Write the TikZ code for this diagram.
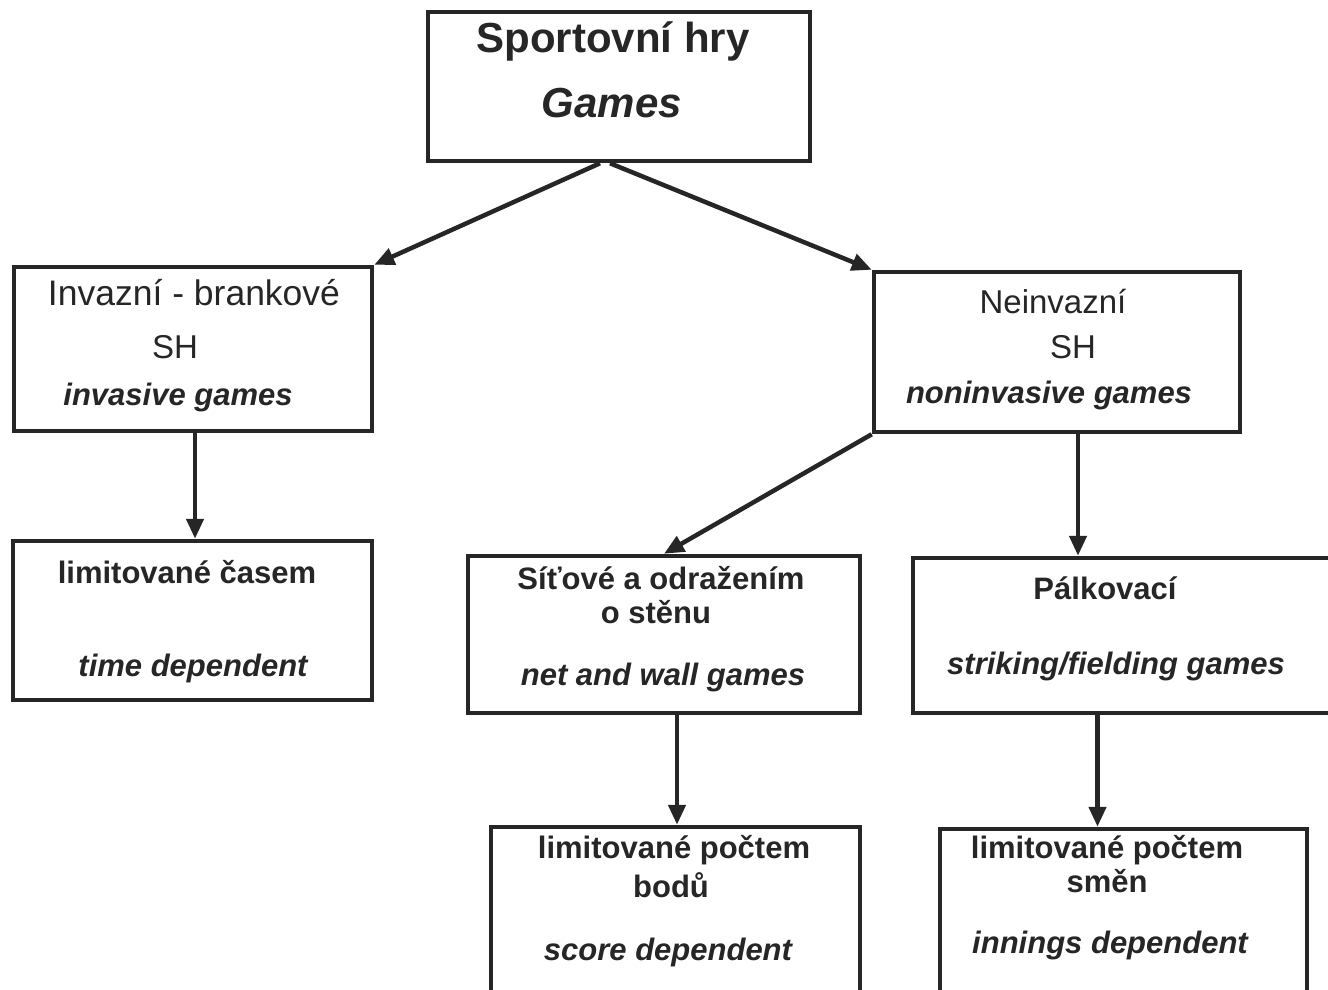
\documentclass[tikz,border=0pt]{standalone}
\usepackage{fontspec}
\setmainfont{Liberation Sans}
\usetikzlibrary{arrows.meta}
\tikzset{
  box/.style={draw=black!85, line width=4.5pt, rectangle, inner sep=0pt, fill=none},
  arr/.style={draw=black!85, line width=4.5pt, -{Triangle[length=20pt,width=17pt]}},
  ttl/.style={inner sep=0pt, font=\fontsize{42}{48}\bfseries\selectfont, text=black!85},
  ttli/.style={inner sep=0pt, font=\fontsize{42}{48}\bfseries\itshape\selectfont, text=black!85},
  reg/.style={inner sep=0pt, font=\fontsize{33}{38}\selectfont, text=black!85},
  bld/.style={inner sep=0pt, font=\fontsize{31}{36}\bfseries\selectfont, text=black!85},
  bit/.style={inner sep=0pt, font=\fontsize{31}{36}\bfseries\itshape\selectfont, text=black!85},
}
\begin{document}
\begin{tikzpicture}[x=1pt,y=-1pt]
\fill[white] (0,0) rectangle (1328,989);
\clip (0,0) rectangle (1328,989);
% boxes
\node[box, minimum width=382pt, minimum height=149pt] (top) at (619,86.5) {};
\node[box, minimum width=358pt, minimum height=164pt] (inv) at (193,349) {};
\node[box, minimum width=366pt, minimum height=160pt] (non) at (1057,352) {};
\node[box, minimum width=359pt, minimum height=159pt] (time) at (192.5,620.5) {};
\node[box, minimum width=392pt, minimum height=157pt] (net) at (664,634.5) {};
\node[box, minimum width=440pt, minimum height=155pt] (pal) at (1133,635.5) {};
\node[box, minimum width=369pt, minimum height=200pt] (score) at (675.5,927) {};
\node[box, minimum width=367pt, minimum height=200pt] (inn) at (1123.5,929) {};
% texts
\node[ttl] (topa) at (613,41) {Sportovní hry};
\node[ttli] (topb) at (612,103) {Games};
\node[reg, font=\fontsize{35.5}{40}\selectfont] (inva) at (194,293) {Invazní - brankové};
\node[reg] (invb) at (175,347) {SH};
\node[bit] (invc) at (178,397) {invasive games};
\node[reg] (nona) at (1053,302) {Neinvazní};
\node[reg] (nonb) at (1073,347) {SH};
\node[bit] (nonc) at (1049,395) {noninvasive games};
\node[bld] (timea) at (187,572) {limitované časem};
\node[bit] (timeb) at (193,668) {time dependent};
\node[bld] (neta) at (661,578) {Síťové a odražením};
\node[bld] (netb) at (656,612) {o stěnu};
\node[bit] (netc) at (663,677) {net and wall games};
\node[bld] (pala) at (1105,588) {Pálkovací};
\node[bit] (palb) at (1116,666) {striking/fielding games};
\node[bld] (scorea) at (674,850) {limitované počtem};
\node[bld] (scoreb) at (671,885) {bodů};
\node[bit] (scorec) at (668,952) {score dependent};
\node[bld] (inna) at (1107,850) {limitované počtem};
\node[bld] (innb) at (1107,881) {směn};
\node[bit] (innc) at (1110,945) {innings dependent};
% connectors
\draw[arr] ([xshift=-19pt]top.south) -- (inv.north east);
\draw[arr] ([xshift=-9pt]top.south) -- (non.north west);
\draw[arr] ([xshift=2pt]inv.south) -- ([xshift=2pt]inv.south |- time.north);
\draw[arr] (non.south west) -- (net.north);
\draw[arr] ([xshift=21pt]non.south) -- ([xshift=21pt]non.south |- pal.north);
\draw[arr] ([xshift=13pt]net.south) -- ([xshift=13pt]net.south |- score.north);
\draw[arr] ([xshift=-26pt]inn.north |- pal.south) -- ([xshift=-26pt]inn.north);
\end{tikzpicture}
\end{document}
